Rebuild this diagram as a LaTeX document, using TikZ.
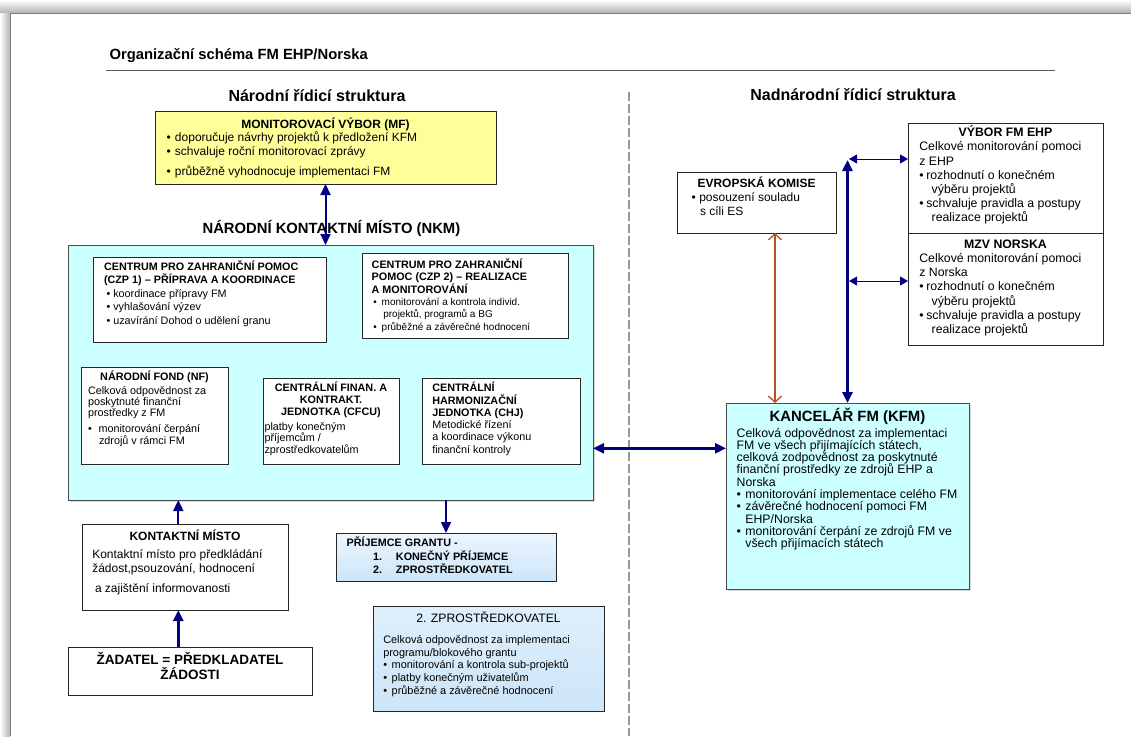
\documentclass[tikz,border=0pt]{standalone}
\usepackage{fontspec}
\setmainfont{Liberation Sans}
\usetikzlibrary{positioning,arrows.meta,shadows}
\definecolor{mfyellow}{RGB}{255,255,153}
\definecolor{nkmcyan}{RGB}{204,255,255}
\definecolor{linkblue}{RGB}{0,0,128}
\definecolor{ekbrown}{RGB}{176,84,40}
\definecolor{grantlight}{RGB}{236,246,254}
\definecolor{grantdark}{RGB}{204,229,248}
\definecolor{divgray}{RGB}{150,150,150}

% text block with a fixed first baseline
\newcommand{\boxtext}[4]{\parbox[t][#2][t]{#1}{\raggedright\lineskiplimit=-100pt\rule{0pt}{#3}\ignorespaces#4}}
\newcommand{\bul}[1][8pt]{\makebox[#1][l]{\textbullet}}

\begin{document}
\begin{tikzpicture}[x=1pt,y=-1pt,
  >={Triangle[length=11pt,width=10pt]},
  panel/.style={draw=black!85, line width=0.8pt, anchor=north west, inner ysep=0pt, outer sep=0pt},
  link/.style={draw=linkblue, line width=2pt},
  thinlink/.style={draw=linkblue, line width=1pt, arrows={Triangle[length=8pt,width=9pt]-Triangle[length=8pt,width=9pt]}},
  eklink/.style={draw=ekbrown, line width=1.3pt, arrows={Straight Barb[length=6pt,width=13pt]-Straight Barb[length=6pt,width=13pt]}},
  divider/.style={draw=divgray, line width=1.3pt, dash pattern=on 9pt off 3pt},
  heading/.style={anchor=base, font=\bfseries\fontsize{16}{18}\selectfont}
]
\useasboundingbox (0,0) rectangle (1131,736);
% page with shadow
\fill[white] (0,0) rectangle (1131,736);
\shade[top color=white, bottom color=black!30] (0,0) rectangle (1131,13);
\shade[left color=white, right color=black!30] (0,13) rectangle (10,736);
\draw[black!50, line width=0.6pt] (10,736) -- (10,13) -- (1131,13);

% headings
\node[anchor=base west, font=\bfseries\fontsize{14.8}{17}\selectfont] (title) at (106,59.5) {Organizační schéma FM EHP/Norska};
\draw[black!65, line width=1pt] (106,70.7) -- (1055,70.7);
\node[heading] (nathead) at (317,101.7) {Národní řídicí struktura};
\node[heading] (suphead) at (853,100.7) {Nadnárodní řídicí struktura};
\draw[divider] (629,92) -- (629,736);

% national side
\node[panel, fill=mfyellow, inner xsep=11.7pt, font=\fontsize{12}{13.5}\selectfont] (mf) at (155,111)
  {\boxtext{317.6pt}{73pt}{17pt}{{\centering\bfseries MONITOROVACÍ VÝBOR (MF)\par}
   \bul[8.3pt]doporučuje návrhy projektů k předložení KFM\\
   \bul[8.3pt]schvaluje roční monitorovací zprávy\\[6.5pt]
   \bul[8.3pt]průběžně vyhodnocuje implementaci FM}};

\node[anchor=base, font=\bfseries\fontsize{14.8}{17}\selectfont] (nkmtitle) at (331.4,233.3) {NÁRODNÍ KONTAKTNÍ MÍSTO (NKM)};

\node[panel, draw=black!70, fill=nkmcyan, inner sep=0pt, minimum width=525pt, minimum height=255pt,
  drop shadow={shadow xshift=2pt, shadow yshift=-2pt, opacity=0.3}] (nkm) at (68,245) {};

\node[panel, fill=white, inner xsep=11pt, font=\fontsize{10.8}{13.3}\selectfont] (czp1) at (93,257)
  {\boxtext{211pt}{85pt}{13pt}{\textbf{CENTRUM PRO ZAHRANIČNÍ POMOC\\(CZP 1) – PŘÍPRAVA A KOORDINACE}\\[0.8pt]
   \hspace*{2.7pt}\bul[6.6pt]koordinace přípravy FM\\
   \hspace*{2.7pt}\bul[6.6pt]vyhlašování výzev\\
   \hspace*{2.7pt}\bul[6.6pt]uzavírání Dohod o udělení granu}};

\node[panel, fill=white, inner xsep=9.7pt, font=\fontsize{10.8}{12.4}\selectfont] (czp2) at (362,253)
  {\boxtext{186.6pt}{85pt}{15.3pt}{\textbf{CENTRUM PRO ZAHRANIČNÍ\\POMOC (CZP 2) – REALIZACE\\A MONITOROVÁNÍ}\\
   {\fontsize{10}{12.4}\selectfont\hspace*{1.6pt}\bul[8.4pt]monitorování a kontrola individ.\\
   \hspace*{11.6pt}projektů, programů a BG\\
   \hspace*{1.6pt}\bul[8.4pt]průběžné a závěrečné hodnocení}}};

\node[panel, fill=white, inner xsep=7pt, font=\fontsize{10.8}{11.3}\selectfont] (nf) at (81,367)
  {\boxtext{133pt}{97pt}{13pt}{{\centering\bfseries NÁRODNÍ FOND (NF)\par}\vspace{3pt}
   Celková odpovědnost za\\poskytnuté finanční\\prostředky z FM\par\vspace{4.5pt}
   \bul[10.6pt]monitorování čerpání\\
   \hspace*{11pt}zdrojů v rámci FM}};

\node[panel, fill=white, inner xsep=1.5pt, font=\fontsize{10.8}{11.7}\selectfont] (cfcu) at (263,378)
  {\boxtext{133pt}{86pt}{13.7pt}{{\centering\bfseries CENTRÁLNÍ FINAN. A\\KONTRAKT.\\JEDNOTKA (CFCU)\par}\vspace{3.3pt}
   platby konečným\\příjemcům /\\zprostředkovatelům}};

\node[panel, fill=white, inner xsep=10.3pt, font=\fontsize{10.8}{12.3}\selectfont] (chj) at (422,378)
  {\boxtext{137.4pt}{86pt}{13.7pt}{\textbf{CENTRÁLNÍ\\HARMONIZAČNÍ\\JEDNOTKA (CHJ)}\\
   Metodické řízení\\a koordinace výkonu\\finanční kontroly}};

\node[panel, top color=grantlight, bottom color=grantdark, inner xsep=10.7pt, font=\bfseries\fontsize{10.8}{13.3}\selectfont] (prij) at (336,533)
  {\boxtext{198.6pt}{48pt}{13.7pt}{PŘÍJEMCE GRANTU -\\
   \hspace*{26.3pt}\makebox[23pt][l]{1.}KONEČNÝ PŘÍJEMCE\\
   \hspace*{26.3pt}\makebox[23pt][l]{2.}ZPROSTŘEDKOVATEL}};

\node[panel, top color=grantlight!60!grantdark, bottom color=grantdark, inner xsep=10.3pt, font=\fontsize{10.9}{12.7}\selectfont] (zpr) at (373,606)
  {\boxtext{210.4pt}{105pt}{16.7pt}{{\centering\fontsize{12.2}{14}\selectfont 2. ZPROSTŘEDKOVATEL\par}\vspace{7.9pt}
   Celková odpovědnost za implementaci\\
   programu/blokového grantu\\
   \bul[8.4pt]monitorování a kontrola sub-projektů\\
   \bul[8.4pt]platby konečným uživatelům\\
   \bul[8.4pt]průběžné a závěrečné hodnocení}};

\node[panel, fill=white, inner xsep=10.3pt, font=\fontsize{12}{14.3}\selectfont] (km) at (82,524)
  {\boxtext{185.4pt}{86pt}{16pt}{{\centering\bfseries KONTAKTNÍ MÍSTO\par}\vspace{4pt}
   Kontaktní místo pro předkládání\\
   žádost,psouzování, hodnocení\\[5.7pt]
   \hspace*{2.7pt}a zajištění informovanosti}};

\node[panel, fill=white, inner xsep=5pt, font=\bfseries\fontsize{13.5}{14.7}\selectfont] (zad) at (68,647)
  {\boxtext{234pt}{48pt}{17.3pt}{{\centering ŽADATEL = PŘEDKLADATEL\\ŽÁDOSTI\par}}};

% supranational side
\node[panel, fill=white, inner xsep=14.7pt, font=\fontsize{12}{13.6}\selectfont] (ek) at (677,172)
  {\boxtext{129.6pt}{61pt}{15.3pt}{{\centering\bfseries EVROPSKÁ KOMISE\par}\vspace{0.8pt}
   \bul[7.6pt]posouzení souladu\\
   \hspace*{8.3pt}s cíli ES}};

\node[panel, fill=white, inner xsep=11.3pt, font=\fontsize{12.3}{14.2}\selectfont] (vybor) at (908,123)
  {\boxtext{172.4pt}{110pt}{13.7pt}{{\centering\bfseries VÝBOR FM EHP\par}
   Celkové monitorování pomoci\\z EHP\\
   \bul[7pt]rozhodnutí o konečném\\
   \hspace*{12.4pt}výběru projektů\\
   \bul[7pt]schvaluje pravidla a postupy\\
   \hspace*{12.4pt}realizace projektů}};

\node[panel, fill=white, inner xsep=11.3pt, font=\fontsize{12.3}{14.2}\selectfont] (mzv) at (908,233)
  {\boxtext{172.4pt}{112pt}{15.3pt}{{\centering\bfseries MZV NORSKA\par}
   Celkové monitorování pomoci\\z Norska\\
   \bul[7pt]rozhodnutí o konečném\\
   \hspace*{12.4pt}výběru projektů\\
   \bul[7pt]schvaluje pravidla a postupy\\
   \hspace*{12.4pt}realizace projektů}};

\node[panel, draw=black!70, fill=nkmcyan, inner xsep=10.7pt, font=\fontsize{12.3}{12.3}\selectfont,
  drop shadow={shadow xshift=2pt, shadow yshift=-2pt, opacity=0.3}] (kfm) at (726,403)
  {\boxtext{221.6pt}{186pt}{18.7pt}{{\centering\bfseries\fontsize{14.9}{16}\selectfont KANCELÁŘ FM (KFM)\par}\vspace{3pt}
   Celková odpovědnost za implementaci\\
   FM ve všech přijímajících státech,\\
   celková zodpovědnost za poskytnuté\\
   finanční prostředky ze zdrojů EHP a\\
   Norska\\
   \bul[8.7pt]monitorování implementace celého FM\\
   \bul[8.7pt]závěrečné hodnocení pomoci FM\\
   \hspace*{8.7pt}EHP/Norska\\
   \bul[8.7pt]monitorování čerpání ze zdrojů FM ve\\
   \hspace*{8.7pt}všech přijímacích státech}};

% connectors
\draw[link, <->] (mf.south) -- (mf.south |- nkm.north);
\coordinate (lnk) at (600,448.3);
\draw[link, line width=2.6pt, <->] (nkm.east |- lnk) -- (kfm.west |- lnk);
\draw[link, line width=1.5pt, ->] (prij.north |- nkm.south) -- (prij.north);
\draw[link, ->] ([xshift=-6.7pt]km.north) -- ([xshift=-6.7pt]km.north |- nkm.south);
\draw[link, line width=3pt, ->] ([xshift=-6.7pt]km.south |- zad.north) -- ([xshift=-6.7pt]km.south);

\coordinate (hubtop) at (848,160);
\draw[link, line width=3pt, <->] (kfm.north) -- (kfm.north |- hubtop);
\coordinate (hubvy) at (849,159);
\draw[thinlink] (hubvy) -- (hubvy -| vybor.west);
\coordinate (hubmz) at (849,281);
\draw[thinlink] (hubmz) -- (hubmz -| mzv.west);
\draw[eklink] ([xshift=18.5pt]ek.south) -- ([xshift=18.5pt]ek.south |- kfm.north);
\end{tikzpicture}
\end{document}
